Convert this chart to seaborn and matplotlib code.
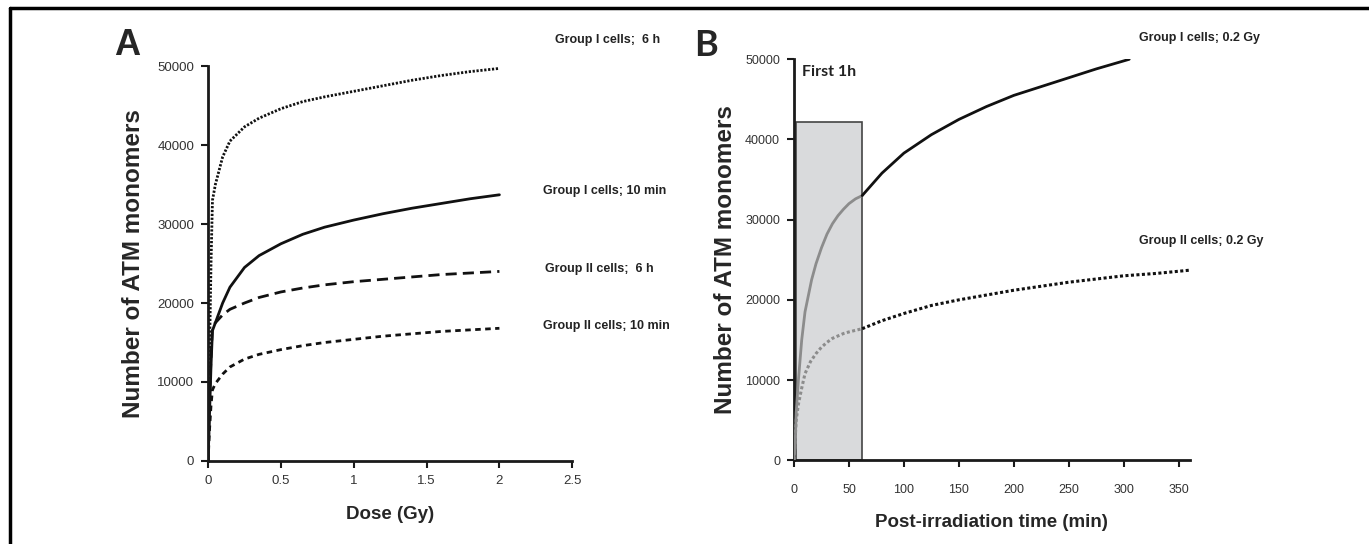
import matplotlib
matplotlib.use("Agg")
import matplotlib.pyplot as plt
import pandas as pd
import seaborn as sns
from matplotlib.patches import Rectangle
from matplotlib.lines import Line2D

# ---- panel A: ATM monomers vs dose ----
dose = [0, 0.01, 0.02, 0.03, 0.05, 0.1, 0.15, 0.25, 0.35, 0.5, 0.65, 0.8,
        1.0, 1.2, 1.4, 1.6, 1.8, 2.0]
g1_6h = [0, 14000, 25000, 33000, 35000, 38500, 40500, 42300, 43400, 44600,
         45500, 46100, 46800, 47500, 48200, 48800, 49300, 49700]
g1_10min = [0, 6000, 12000, 16500, 17500, 20000, 22000, 24500, 26000, 27500,
            28700, 29600, 30500, 31300, 32000, 32600, 33200, 33700]
g2_6h = [0, 8000, 13000, 17000, 17500, 18500, 19200, 20000, 20700, 21400,
         21900, 22300, 22700, 23000, 23300, 23600, 23800, 24000]
g2_10min = [0, 4000, 7000, 9000, 9800, 11000, 11900, 12900, 13500, 14100,
            14600, 15000, 15400, 15800, 16100, 16400, 16600, 16800]
labels_a = ["Group I cells;  6 h", "Group I cells; 10 min",
            "Group II cells;  6 h", "Group II cells; 10 min"]

# ---- panel B: ATM monomers vs time after 0.2 Gy ----
t_g1_early = [0, 1, 2, 4, 7, 10, 13, 16, 20, 25, 30, 35, 40, 45, 50, 56, 62]
g1_early = [0, 2000, 6000, 10000, 15000, 18500, 20500, 22500, 24500, 26500,
            28200, 29500, 30500, 31300, 32000, 32600, 33000]
t_g1_late = [62, 80, 100, 125, 150, 175, 200, 225, 250, 275, 305]
g1_late = [33000, 35800, 38300, 40600, 42500, 44100, 45500, 46600, 47700,
           48800, 50000]
t_g2_early = [0, 1, 2, 4, 7, 10, 15, 20, 25, 30, 35, 40, 45, 50, 56, 62]
g2_early = [0, 2500, 5000, 7000, 9000, 10800, 12300, 13300, 14100, 14700,
            15200, 15500, 15800, 16000, 16200, 16400]
t_g2_late = [62, 80, 100, 125, 150, 175, 200, 225, 250, 275, 300, 330, 360]
g2_late = [16400, 17400, 18300, 19300, 20000, 20600, 21200, 21700, 22200,
           22600, 23000, 23300, 23700]
labels_b = ["Group I cells; 0.2 Gy", "Group II cells; 0.2 Gy"]
first_hour = (1.5, 62, 42200)  # start, end, height of shaded box

sns.set_theme(style="white")
plt.rcParams["font.family"] = ["Liberation Sans", "DejaVu Sans"]

fig = plt.figure(figsize=(13.69, 5.44), dpi=100)
ax_a = fig.add_axes([0.152, 0.1526, 0.266, 0.726])
ax_b = fig.add_axes([0.580, 0.154, 0.289, 0.737])

# frame lines of the original figure (top and left)
fig.add_artist(Line2D([0.007, 1.0], [0.985, 0.985], color="black", lw=2.5))
fig.add_artist(Line2D([0.0075, 0.0075], [0.0, 0.985], color="black", lw=2.5))

df_a = pd.DataFrame({"dose": dose, "g1_6h": g1_6h, "g1_10min": g1_10min,
                     "g2_6h": g2_6h, "g2_10min": g2_10min})
styles_a = [(0, (0.8, 0.6)), "-", (0, (4, 2.2)), (0, (2, 1.6))]
for col, ls in zip(["g1_6h", "g1_10min", "g2_6h", "g2_10min"], styles_a):
    sns.lineplot(data=df_a, x="dose", y=col, color="#111111", lw=2,
                 linestyle=ls, ax=ax_a)

ax_a.set_xlim(0, 2.5)
ax_a.set_ylim(0, 50000)
ax_a.set_xticks([0, 0.5, 1, 1.5, 2, 2.5])
ax_a.set_xticklabels(["0", "0.5", "1", "1.5", "2", "2.5"])
ax_a.set_yticks(range(0, 50001, 10000))

text_pos_a = [(2.38, 53300), (2.30, 34200), (2.31, 24300), (2.30, 17100)]
for (x, y), lab in zip(text_pos_a, labels_a):
    ax_a.text(x, y, lab, fontsize=9, fontweight="bold", ha="left",
              va="center", color="#222222", clip_on=False)
ax_a.set_xlabel("Dose (Gy)", fontsize=13.5, fontweight="bold", labelpad=14)

# panel B
ax_b.add_patch(Rectangle((first_hour[0], 0), first_hour[1] - first_hour[0],
                         first_hour[2], facecolor="#d9dadc",
                         edgecolor="#444444", lw=1.2, zorder=1))
ax_b.text((first_hour[0] + first_hour[1]) / 2, 48400, "First 1h",
          fontsize=11.5, fontweight="bold", family=["Lato", "DejaVu Sans"],
          ha="center", va="center", color="#222222")

sns.lineplot(x=t_g1_early, y=g1_early, color="#8c8c8c", lw=2, ax=ax_b,
             zorder=3)
sns.lineplot(x=t_g1_late, y=g1_late, color="#111111", lw=2, ax=ax_b,
             zorder=3)
sns.lineplot(x=t_g2_early, y=g2_early, color="#8c8c8c", lw=2.2,
             linestyle=(0, (1, 0.8)), ax=ax_b, zorder=3)
sns.lineplot(x=t_g2_late, y=g2_late, color="#111111", lw=2.2,
             linestyle=(0, (1, 0.8)), ax=ax_b, zorder=3)

ax_b.set_xlim(0, 360)
ax_b.set_ylim(0, 50000)
ax_b.set_xticks(range(0, 351, 50))
ax_b.set_yticks(range(0, 50001, 10000))
for (x, y), lab in zip([(314, 52600), (314, 27400)], labels_b):
    ax_b.text(x, y, lab, fontsize=9, fontweight="bold", ha="left",
              va="center", color="#222222", clip_on=False)
ax_b.set_xlabel("Post-irradiation time (min)", fontsize=13.5,
                fontweight="bold", labelpad=13)

for ax, size, xpad, ypad in ((ax_a, 9.5, 5, 9), (ax_b, 9, 12, 6)):
    sns.despine(ax=ax)
    ax.spines["left"].set_linewidth(2)
    ax.spines["bottom"].set_linewidth(2)
    ax.spines["left"].set_color("#1a1a1a")
    ax.spines["bottom"].set_color("#1a1a1a")
    ax.tick_params(axis="both", direction="out", length=5, width=1.5,
                   labelsize=size, colors="#1a1a1a", labelcolor="#333333",
                   left=True, bottom=True, pad=5)
    ax.tick_params(axis="x", pad=xpad)
    ax.set_ylabel("Number of ATM monomers", fontsize=17.5, fontweight="bold",
                  labelpad=ypad)
    ax.set_facecolor("white")

fig.text(0.093, 0.917, "A", fontsize=26, fontweight="bold", ha="center",
         va="center")
fig.text(0.516, 0.917, "B", fontsize=26, fontweight="bold", ha="center",
         va="center", family=["Lato", "DejaVu Sans"])

fig.savefig("out.png", dpi=100, facecolor="white")
